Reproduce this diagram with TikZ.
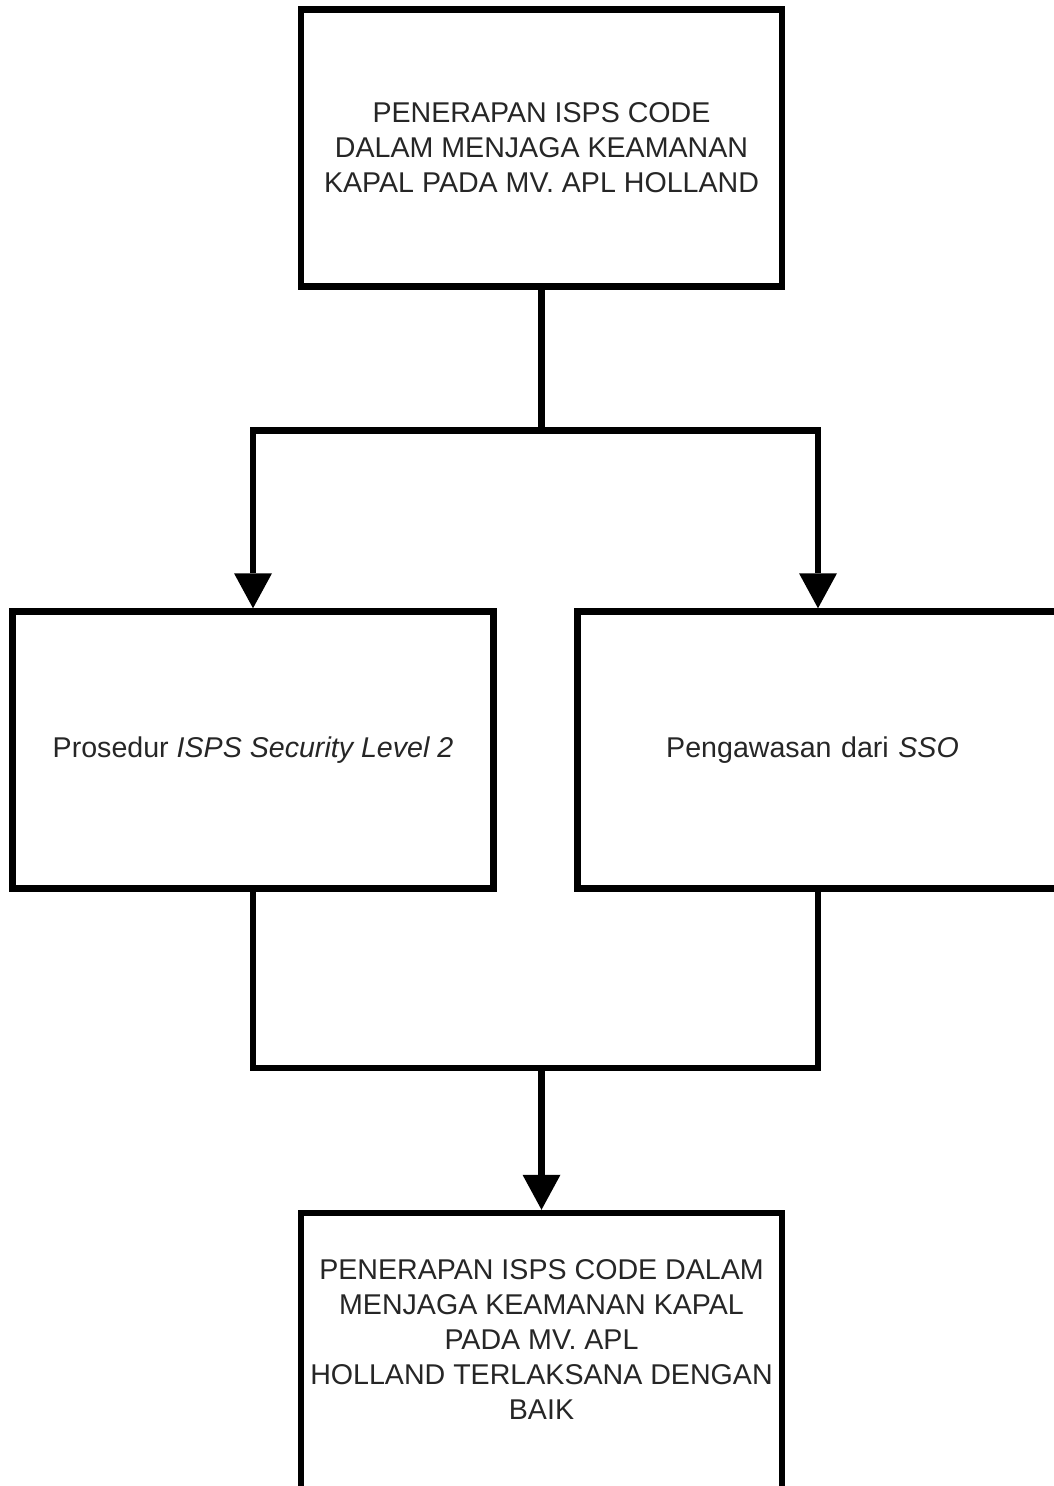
\documentclass[tikz,border=0pt]{standalone}
\usepackage{fontspec}
\setmainfont{Liberation Sans}
\usetikzlibrary{arrows.meta}
\begin{document}
\begin{tikzpicture}[x=1pt,y=-1pt,
  box/.style={draw=black, line width=6.5pt, fill=white, rectangle,
    minimum width=481pt, minimum height=277pt, inner sep=0pt,
    align=center, font=\fontsize{28.6}{35}\selectfont, text=black!85},
  txt/.style={align=center, inner sep=0pt, font=\fontsize{28.6}{35}\selectfont, text=black!85},
  wire/.style={draw=black, line width=6.5pt, line join=miter},
  conn/.style={wire, -{Triangle[length=35pt,width=38pt,line width=0pt]}}
]
\useasboundingbox (0,0) rectangle (1054,1486);
\fill[white] (0,0) rectangle (1054,1486);
\clip (0,0) rectangle (1054,1486);

\node[box] (top) at (541.5,148) {PENERAPAN ISPS CODE\\DALAM MENJAGA KEAMANAN\\KAPAL PADA MV. APL HOLLAND};
\node[box] (left) at (253,750) {Prosedur \textit{ISPS Security Level 2}};
\node[box, text width=470pt] (right) at (818,750) {\hspace*{-11pt}Pengawasan dari \textit{SSO}};
\node[box] (bottom) at (541.5,1351.5) {};
\node[txt] (bottomtext) at (541.5,1339) {PENERAPAN ISPS CODE DALAM\\MENJAGA KEAMANAN KAPAL\\PADA MV. APL\\HOLLAND TERLAKSANA DENGAN\\BAIK};

\coordinate (split) at (541.5,430.5);
\coordinate (merge) at (541.5,1068);

\draw[conn] (top.south) -- (split) -| (left.north);
\draw[conn] (split) -| (right.north);
\draw[wire] (left.south) |- (merge) -| (right.south);
\draw[conn] (merge) -- (bottom.north);
\end{tikzpicture}
\end{document}
